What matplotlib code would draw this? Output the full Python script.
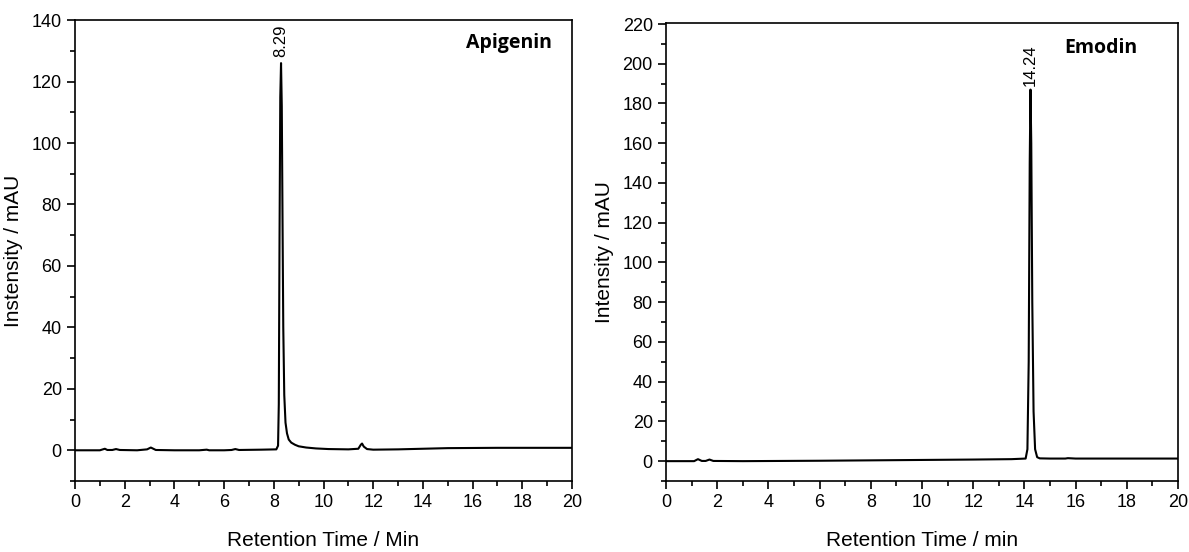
import matplotlib.pyplot as plt
from matplotlib.ticker import MultipleLocator

plt.rcParams['font.family'] = ['Liberation Sans', 'DejaVu Sans']

# Apigenin chromatogram
api_time = [0, 1.0, 1.2, 1.3, 1.5, 1.65, 1.8, 2.5, 2.9, 3.05, 3.25, 4.0, 5.0, 5.3, 5.4,
            6.0, 6.3, 6.45, 6.6, 7.5, 8.1, 8.17, 8.2, 8.23, 8.26, 8.29, 8.32, 8.35, 8.38,
            8.42, 8.47, 8.53, 8.6, 8.7, 8.85, 9.0, 9.3, 9.7, 10.2, 11.0, 11.4, 11.5,
            11.55, 11.62, 11.75, 12.0, 13.0, 14.0, 15.0, 17.0, 20.0]
api_int = [0, 0, 0.5, 0.1, 0.1, 0.4, 0.1, 0, 0.3, 0.9, 0.1, 0, 0, 0.2, 0,
           0, 0.1, 0.4, 0.1, 0.2, 0.3, 1.5, 15, 70, 115, 126, 112, 75, 40,
           18, 9, 5.5, 3.5, 2.5, 1.8, 1.3, 0.9, 0.6, 0.4, 0.3, 0.5, 1.8,
           2.2, 1.2, 0.4, 0.2, 0.3, 0.5, 0.7, 0.8, 0.8]

# Emodin chromatogram
emo_time = [0, 1.1, 1.25, 1.4, 1.55, 1.7, 1.85, 3, 6, 8, 10, 12, 13.5, 14.05, 14.12,
            14.17, 14.21, 14.24, 14.27, 14.31, 14.36, 14.42, 14.5, 14.6, 15, 15.6,
            15.7, 16, 20]
emo_int = [0, 0, 1.0, 0.1, 0.1, 0.8, 0.1, 0, 0.2, 0.4, 0.6, 0.8, 1.0, 1.3, 6,
           50, 150, 187, 160, 80, 25, 6, 2, 1.4, 1.3, 1.3,
           1.5, 1.3, 1.3]

panels = [
    dict(t=api_time, y=api_int, rt=8.29, top=126, name='Apigenin', name_x=0.873,
         name_y=0.972, ylabel='Instensity / mAU', xlabel='Retention Time / Min',
         ylim=(-10, 140), rect=[0.0631, 0.1286, 0.418, 0.835]),
    dict(t=emo_time, y=emo_int, rt=14.24, top=187, name='Emodin', name_x=0.85,
         name_y=0.967, ylabel='Intensity / mAU', xlabel='Retention Time / min',
         ylim=(-10, 220.5), rect=[0.5601, 0.1286, 0.4306, 0.8297]),
]

fig = plt.figure(figsize=(11.89, 5.52), dpi=100)

for p in panels:
    ax = fig.add_axes(p['rect'])
    ax.plot(p['t'], p['y'], color='black', lw=1.5)
    ax.set_xlim(0, 20)
    ax.set_ylim(*p['ylim'])
    ax.xaxis.set_major_locator(MultipleLocator(2))
    ax.xaxis.set_minor_locator(MultipleLocator(1))
    ax.yaxis.set_major_locator(MultipleLocator(20))
    ax.yaxis.set_minor_locator(MultipleLocator(10))
    ax.tick_params(which='both', direction='out', labelsize=13, width=1.2)
    ax.tick_params(which='major', length=6)
    ax.tick_params(which='minor', length=3.5)
    for s in ax.spines.values():
        s.set_linewidth(1.2)
    ax.set_xlabel(p['xlabel'], fontsize=15, labelpad=14)
    ax.set_ylabel(p['ylabel'], fontsize=15, labelpad=6)
    ax.text(p['rt'], p['top'] + 2, f"{p['rt']:.2f}", rotation=90, ha='center',
            va='bottom', fontsize=12)
    ax.text(p['name_x'], p['name_y'], p['name'], transform=ax.transAxes,
            fontsize=14, fontweight='bold', family='Open Sans', ha='center', va='top')

fig.savefig('out.png', dpi=100)
